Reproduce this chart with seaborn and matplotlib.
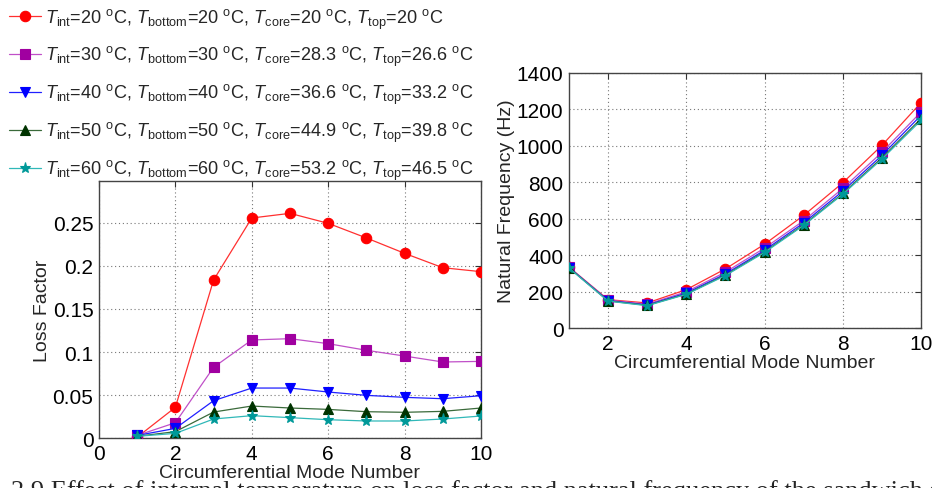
import matplotlib
matplotlib.use("Agg")
import matplotlib.pyplot as plt
import seaborn as sns
import numpy as np
import pandas as pd

modes = [1, 2, 3, 4, 5, 6, 7, 8, 9, 10]

loss_20 = [0.001, 0.0357, 0.1837, 0.2558, 0.2612, 0.2496, 0.2326, 0.2147, 0.198, 0.1934]
loss_30 = [0.003, 0.0178, 0.0822, 0.114, 0.1155, 0.1097, 0.102, 0.0953, 0.0884, 0.0891]
loss_40 = [0.003, 0.0112, 0.0434, 0.0581, 0.0581, 0.0535, 0.0496, 0.0473, 0.0457, 0.0492]
loss_50 = [0.002, 0.0074, 0.0302, 0.0372, 0.0349, 0.0333, 0.0306, 0.0299, 0.031, 0.0349]
loss_60 = [0.002, 0.0054, 0.0221, 0.026, 0.0237, 0.0213, 0.0198, 0.0198, 0.0221, 0.0256]

freq_20 = [335, 157, 139, 212, 326, 461, 619, 798, 1003, 1237]
freq_30 = [335, 155, 132, 200, 308, 440, 590, 767, 965, 1186]
freq_40 = [333, 152, 128, 193, 298, 428, 578, 752, 948, 1168]
freq_50 = [332, 150, 126, 188, 292, 420, 568, 740, 935, 1150]
freq_60 = [330, 149, 124, 186, 289, 416, 564, 735, 928, 1140]

labels = [
    r"$T_{\rm int}$=20 $^{\rm o}$C, $T_{\rm bottom}$=20 $^{\rm o}$C, $T_{\rm core}$=20 $^{\rm o}$C, $T_{\rm top}$=20 $^{\rm o}$C",
    r"$T_{\rm int}$=30 $^{\rm o}$C, $T_{\rm bottom}$=30 $^{\rm o}$C, $T_{\rm core}$=28.3 $^{\rm o}$C, $T_{\rm top}$=26.6 $^{\rm o}$C",
    r"$T_{\rm int}$=40 $^{\rm o}$C, $T_{\rm bottom}$=40 $^{\rm o}$C, $T_{\rm core}$=36.6 $^{\rm o}$C, $T_{\rm top}$=33.2 $^{\rm o}$C",
    r"$T_{\rm int}$=50 $^{\rm o}$C, $T_{\rm bottom}$=50 $^{\rm o}$C, $T_{\rm core}$=44.9 $^{\rm o}$C, $T_{\rm top}$=39.8 $^{\rm o}$C",
    r"$T_{\rm int}$=60 $^{\rm o}$C, $T_{\rm bottom}$=60 $^{\rm o}$C, $T_{\rm core}$=53.2 $^{\rm o}$C, $T_{\rm top}$=46.5 $^{\rm o}$C",
]

caption = "2.9 Effect of internal temperature on loss factor and natural frequency of the sandwich shell"

loss_series = [loss_20, loss_30, loss_40, loss_50, loss_60]
freq_series = [freq_20, freq_30, freq_40, freq_50, freq_60]

line_colors = ["#ff3030", "#c050c8", "#2020ff", "#3a6a3a", "#30b8b8"]
marker_colors = ["#ff0000", "#a000a0", "#0000ff", "#003300", "#009999"]
markers = ["o", "s", "v", "^", "*"]
msizes = [7.5, 6.5, 7.5, 7.5, 8]

sns.set_style("white")
plt.rcParams["font.family"] = ["Liberation Sans", "DejaVu Sans"]
plt.rcParams["mathtext.fontset"] = "custom"
plt.rcParams["mathtext.rm"] = "Liberation Sans"
plt.rcParams["mathtext.it"] = "Liberation Sans:italic"
plt.rcParams["mathtext.bf"] = "Liberation Sans:bold"

fig = plt.figure(figsize=(9.32, 4.89), dpi=100)
ax1 = fig.add_axes([0.1062, 0.1022, 0.4099, 0.5256])
ax2 = fig.add_axes([0.6105, 0.3266, 0.3777, 0.5221])

rows = []
for lab, ls, fs in zip(labels, loss_series, freq_series):
    for m, l, f in zip(modes, ls, fs):
        rows.append({"case": lab, "mode": m, "loss": l, "freq": f})
df = pd.DataFrame(rows)

handles = []
for i, lab in enumerate(labels):
    sub = df[df["case"] == lab]
    for ax, col in ((ax1, "loss"), (ax2, "freq")):
        sns.lineplot(data=sub, x="mode", y=col, ax=ax, color=line_colors[i],
                     marker=markers[i], markersize=msizes[i],
                     markerfacecolor=marker_colors[i], markeredgecolor=marker_colors[i],
                     markeredgewidth=0.8, linewidth=0.9, label=lab, legend=False,
                     errorbar=None, zorder=3)
    handles.append(ax1.get_lines()[-1])

for ax in (ax1, ax2):
    ax.grid(True, linestyle=(0, (1, 2.5)), color="#777777", linewidth=0.8)
    ax.tick_params(direction="in", length=4, width=0.8, labelsize=15, top=True, right=True,
                   colors="#333333", labelcolor="black", pad=4)
    for s in ax.spines.values():
        s.set_color("#444444")
        s.set_linewidth(1.0)
        s.set_visible(True)
    ax.set_axisbelow(True)

ax1.set_xlim(0, 10)
ax1.set_ylim(0, 0.2988)
ax1.set_xticks([0, 2, 4, 6, 8, 10])
ax1.set_yticks([0, 0.05, 0.1, 0.15, 0.2, 0.25])
ax1.set_yticklabels(["0", "0.05", "0.1", "0.15", "0.2", "0.25"])
ax1.set_xlabel("Circumferential Mode Number", fontsize=14, labelpad=1)
ax1.set_ylabel("Loss Factor", fontsize=14, labelpad=1)

ax2.set_xlim(1, 10)
ax2.set_ylim(0, 1400)
ax2.set_xticks([2, 4, 6, 8, 10])
ax2.set_yticks([0, 200, 400, 600, 800, 1000, 1200, 1400])
ax2.set_xlabel("Circumferential Mode Number", fontsize=14, labelpad=1)
ax2.set_ylabel("Natural Frequency (Hz)", fontsize=14, labelpad=1)

fig.legend(handles=handles, labels=labels, loc="upper left", bbox_to_anchor=(0.004, 0.996),
           frameon=False, fontsize=13.1, handlelength=1.75, handletextpad=0.2,
           labelspacing=0.75, borderaxespad=0.0, borderpad=0.3)

fig.text(0.012, -0.018, caption, fontsize=19, family="Liberation Serif",
         ha="left", va="baseline")

fig.savefig("out.png", dpi=100)
